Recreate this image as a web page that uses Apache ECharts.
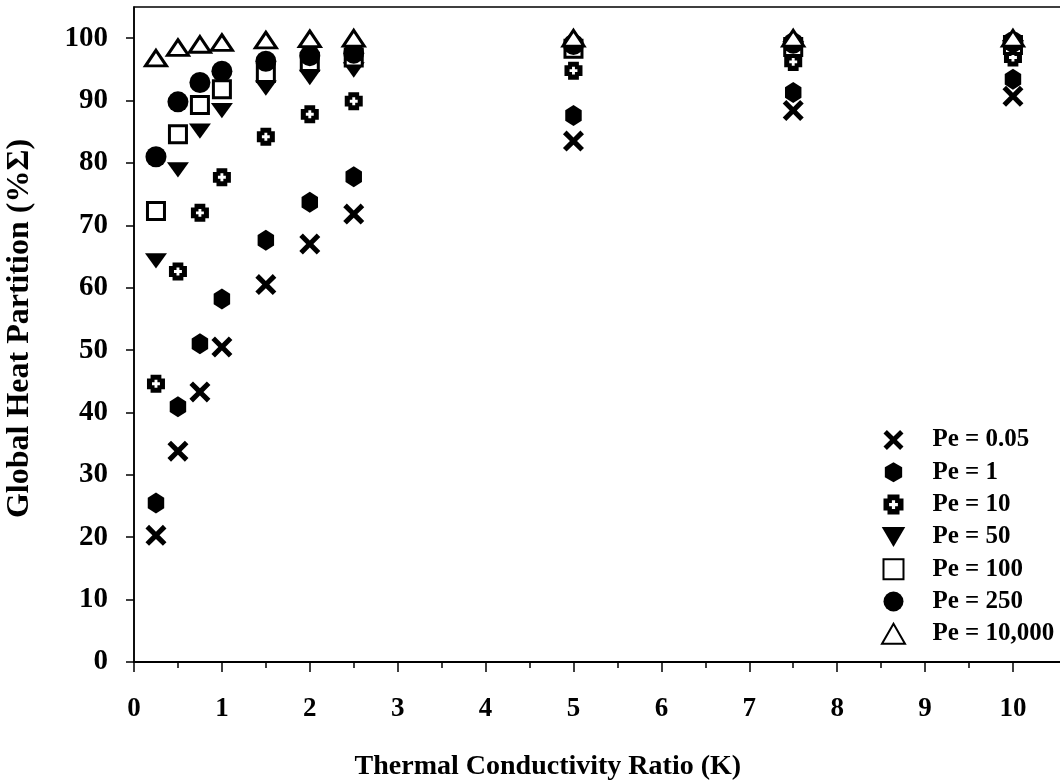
<!DOCTYPE html>
<html>
<head>
<meta charset="utf-8">
<script src="https://cdn.jsdelivr.net/npm/echarts@6/dist/echarts.min.js"></script>
<style>
html,body{margin:0;padding:0;background:#fff;}
#chart{width:1060px;height:784px;}
</style>
</head>
<body>
<div id="chart"></div>
<script>
// ---- data ----
const kValues = [0.25, 0.5, 0.75, 1, 1.5, 2, 2.5, 5, 7.5, 10];
const pe005  = [20.3, 33.8, 43.3, 50.5, 60.5, 67.0, 71.8, 83.5, 88.4, 90.7];
const pe1    = [25.5, 40.9, 51.0, 58.2, 67.6, 73.7, 77.8, 87.6, 91.3, 93.4];
const pe10   = [44.6, 62.6, 72.0, 77.7, 84.2, 87.8, 89.9, 94.8, 96.2, 96.9];
const pe50   = [64.3, 78.9, 85.1, 88.4, 92.0, 93.7, 94.9, 98.0, 98.3, 98.5];
const pe100  = [72.3, 84.6, 89.3, 91.8, 94.4, 96.2, 96.9, 98.3, 98.6, 98.9];
const pe250  = [81.0, 89.8, 92.9, 94.7, 96.3, 97.2, 97.6, 99.0, 99.2, 99.4];
const pe10000 = [96.8, 98.5, 99.0, 99.3, 99.7, 99.9, 100, 100, 100, 100];
const seriesNames = ['Pe = 0.05', 'Pe = 1', 'Pe = 10', 'Pe = 50', 'Pe = 100', 'Pe = 250', 'Pe = 10,000'];
const xTicks = [0, 1, 2, 3, 4, 5, 6, 7, 8, 9, 10];
const xMinorTicks = [0.5, 1.5, 2.5, 3.5, 4.5, 5.5, 6.5, 7.5, 8.5, 9.5];
const yTicks = [0, 10, 20, 30, 40, 50, 60, 70, 80, 90, 100];
const xTitle = 'Thermal Conductivity Ratio (K)';
const yTitle = 'Global Heat Partition (%Σ)';

const pts = arr => kValues.map((k, i) => [k, arr[i]]);

const SYM_X = 'path://M0 1.7 L1.7 0 L5 3.3 L8.3 0 L10 1.7 L6.7 5 L10 8.3 L8.3 10 L5 6.7 L1.7 10 L0 8.3 L3.3 5 Z';
const SYM_HEX = 'path://M5 0 L9.33 2.5 L9.33 7.5 L5 10 L0.67 7.5 L0.67 2.5 Z';
const SYM_PLUS = 'path://M2 0 H8 V2 H10 V8 H8 V10 H2 V8 H0 V2 H2 Z M4.2 2.8 V4.2 H2.8 V5.8 H4.2 V7.2 H5.8 V5.8 H7.2 V4.2 H5.8 V2.8 Z';
const SYM_TDOWN = 'path://M0 0 H10 L5 8.5 Z';
const SYM_SQ = 'path://M0 0 H10 V10 H0 Z';
const SYM_TUP = 'path://M5 0 L10 8.7 L0 8.7 Z';

const font = '"Liberation Serif", "Times New Roman", serif';

function mk(name, data, symbol, size, style) {
  return {
    name: name, type: 'scatter', data: pts(data),
    symbol: symbol, symbolSize: size, symbolKeepAspect: true,
    itemStyle: Object.assign({ color: '#000', opacity: 1 }, style || {}),
    emphasis: { disabled: true }
  };
}

const chart = echarts.init(document.getElementById('chart'), null, { renderer: 'canvas' });
chart.setOption({
  animation: false,
  backgroundColor: '#fff',
  grid: {
    left: 134, top: 7, right: -5.7, bottom: 122,
    outerBoundsMode: 'none', containLabel: false,
    show: true, borderColor: '#000', borderWidth: 1.5, backgroundColor: 'transparent'
  },
  legend: {
    orient: 'vertical', left: 876, top: 422, padding: 5,
    itemWidth: 68, itemHeight: 20, itemGap: 6.3, symbolKeepAspect: true,
    textStyle: { fontFamily: font, fontWeight: 'bold', fontSize: 25, color: '#000', lineHeight: 26 },
    data: seriesNames
  },
  xAxis: [{
    type: 'value', min: 0, max: 10.6,
    position: 'bottom',
    axisLine: { show: true, onZero: false, lineStyle: { color: '#000', width: 2 } },
    axisTick: { show: true, length: 10, customValues: xTicks, lineStyle: { color: '#000', width: 1.5 } },
    axisLabel: { customValues: xTicks, margin: 34, fontFamily: font, fontWeight: 'bold', fontSize: 27, color: '#000' },
    splitLine: { show: false },
    name: xTitle, nameLocation: 'middle', nameGap: 91,
    nameTextStyle: { fontFamily: font, fontWeight: 'bold', fontSize: 28, color: '#000', padding: [0, 104, 0, 0] }
  }, {
    type: 'value', min: 0, max: 10.6,
    position: 'top', offset: -655,
    axisLine: { show: false },
    axisTick: { show: true, inside: true, length: 6, customValues: xMinorTicks, lineStyle: { color: '#000', width: 1.5 } },
    axisLabel: { show: false },
    splitLine: { show: false }
  }],
  yAxis: {
    type: 'value', min: 0, max: 105,
    axisLine: { show: true, onZero: false, lineStyle: { color: '#000', width: 1.5 } },
    axisTick: { show: true, length: 8, customValues: yTicks, lineStyle: { color: '#000', width: 1.5 } },
    axisLabel: { customValues: yTicks, margin: 26, fontFamily: font, fontWeight: 'bold', fontSize: 29, color: '#000' },
    splitLine: { show: false },
    name: yTitle, nameLocation: 'middle', nameGap: 98, nameRotate: 90,
    nameTextStyle: { fontFamily: font, fontWeight: 'bold', fontSize: 32, color: '#000', padding: [0, 0, 0, 12] }
  },
  series: [
    mk(seriesNames[0], pe005, SYM_X, 21),
    mk(seriesNames[1], pe1, SYM_HEX, [19, 21]),
    mk(seriesNames[2], pe10, SYM_PLUS, 18),
    mk(seriesNames[3], pe50, SYM_TDOWN, [22, 18]),
    mk(seriesNames[4], pe100, SYM_SQ, 17, { color: '#fff', borderColor: '#000', borderWidth: 3 }),
    mk(seriesNames[5], pe250, 'circle', 21),
    mk(seriesNames[6], pe10000, SYM_TUP, [21, 18], { color: '#fff', borderColor: '#000', borderWidth: 3 })
  ]
});
</script>
</body>
</html>
